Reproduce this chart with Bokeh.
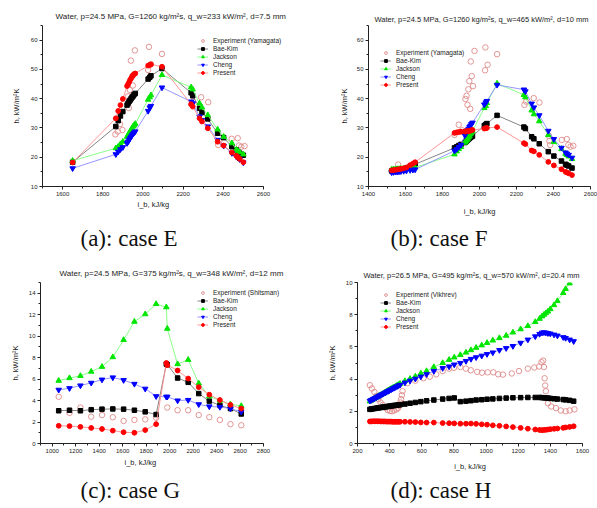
from bokeh.plotting import figure
from bokeh.models import Legend, LegendItem, Title, Range1d, SingleIntervalTicker
from bokeh.layouts import column, row
from bokeh.embed import file_html
from bokeh.resources import INLINE

# ---------------- data ----------------
X_LABEL = "i_b, kJ/kg"
Y_LABEL = "h, kW/m²K"
SERIES = ["Bae-Kim", "Jackson", "Cheng", "Present"]

# (a) case E
a_title = "Water, p=24.5 MPa, G=1260 kg/m²s, q_w=233 kW/m², d=7.5 mm"
a_caption = "(a): case E"
a_exp_name = "Experiment (Yamagata)"
a_exp_x = [1863, 1875, 1886, 1898, 1926, 1930, 1935, 1940, 1948, 1950, 1960, 2026, 2030, 2040, 2095,
           2242, 2250, 2290, 2325, 2375, 2380, 2442, 2472, 2478, 2490, 2506]
a_exp_y = [27.8, 28.8, 31.3, 29.3, 40.8, 36.8, 43.0, 53.0, 47.8, 44.5, 56.5, 49.8, 57.7, 51.8, 55.3,
           38.0, 39.0, 40.5, 38.8, 24.2, 25.5, 26.3, 26.5, 24.0, 23.6, 23.8]
a_x = [1650, 1865, 1877, 1888, 1900, 1921, 1926, 1931, 1936, 1941, 1946, 1951, 1956, 1962, 2026, 2034,
       2040, 2095, 2240, 2248, 2282, 2294, 2323, 2372, 2402, 2443, 2465, 2472, 2482, 2500]
a_baekim = [18.3, 30.5, 32.5, 34.1, 35.6, 37.8, 38.4, 39.0, 39.5, 40.0, 40.5, 40.9, 41.4, 41.8, 46.7, 47.3,
            47.8, 50.3, 42.0, 41.0, 36.7, 35.3, 33.1, 28.2, 26.7, 23.6, 22.5, 21.9, 21.4, 20.7]
a_jackson = [18.8, 23.1, 23.6, 24.5, 25.3, 27.0, 27.6, 28.2, 28.8, 29.3, 29.9, 30.5, 30.9, 31.4, 39.7, 40.5,
             41.2, 48.1, 43.9, 43.2, 38.4, 37.0, 34.4, 29.5, 27.0, 24.8, 22.6, 22.2, 21.7, 21.0]
a_cheng = [16.2, 21.0, 21.9, 22.7, 23.4, 24.8, 25.3, 25.9, 26.5, 27.0, 27.5, 28.0, 28.4, 28.8, 35.8, 37.0,
           37.5, 43.8, 39.0, 38.4, 33.9, 32.7, 30.5, 25.9, 23.9, 21.4, 20.2, 19.8, 19.3, 18.2]
a_present = [18.2, 33.3, 35.8, 37.8, 39.9, 44.3, 44.9, 45.6, 46.4, 46.9, 47.5, 48.0, 48.4, 48.6, 51.3, 51.5,
             51.7, 50.9, 38.1, 37.3, 33.3, 32.2, 29.9, 25.3, 24.0, 21.6, 20.5, 20.0, 19.4, 18.3]

# (b) case F
b_title = "Water, p=24.5 MPa, G=1260 kg/m²s, q_w=465 kW/m², d=10 mm"
b_caption = "(b): case F"
b_exp_name = "Experiment (Yamagata)"
b_exp_x = [1560, 1865, 1888, 1906, 1924, 1930, 1935, 1940, 1945, 1950, 1953, 1958, 1965, 1973, 2030,
           2032, 2044, 2095, 2243, 2252, 2293, 2324, 2375, 2378, 2382, 2445, 2472, 2480, 2492, 2507]
b_exp_y = [17.5, 27.6, 31.1, 29.2, 39.9, 41.0, 37.9, 43.2, 46.0, 36.5, 52.7, 47.7, 44.3, 56.3, 49.7,
           57.5, 51.6, 55.2, 37.9, 39.0, 40.2, 38.7, 27.3, 25.5, 24.2, 25.9, 26.2, 24.2, 23.6, 23.9]
b_x = [1525, 1535, 1545, 1555, 1565, 1575, 1590, 1605, 1625, 1640, 1652, 1865, 1877, 1888, 1900, 1921,
       1926, 1931, 1936, 1941, 1946, 1951, 1956, 1962, 2026, 2034, 2040, 2095, 2240, 2248, 2282, 2294,
       2323, 2372, 2402, 2443, 2465, 2472, 2482, 2500]
b_baekim = [15.3, 15.4, 15.5, 15.6, 15.7, 15.8, 16.0, 16.2, 16.8, 17.2, 17.6, 23.2, 23.6, 24.0, 24.4, 25.0,
            25.3, 25.6, 25.9, 26.2, 26.5, 26.8, 27.0, 27.2, 30.8, 31.2, 31.5, 34.3, 30.3, 29.8, 27.0, 26.3,
            24.6, 21.9, 20.4, 18.7, 17.6, 17.3, 17.0, 16.3]
b_jackson = [15.8, 15.9, 15.9, 16.0, 16.0, 16.1, 16.1, 16.2, 16.3, 16.4, 16.5, 21.0, 22.0, 22.8, 23.5, 25.0,
             25.4, 25.8, 26.3, 26.8, 27.3, 27.9, 28.4, 29.0, 36.8, 37.5, 38.5, 45.2, 41.3, 40.5, 36.0, 34.7,
             32.3, 27.6, 25.2, 22.8, 21.2, 20.8, 20.3, 19.4]
b_cheng = [14.8, 14.9, 15.0, 15.0, 15.1, 15.2, 15.3, 15.4, 15.6, 15.7, 15.8, 22.2, 22.8, 23.5, 24.2, 27.5,
           28.0, 28.6, 29.2, 29.7, 30.3, 30.8, 31.3, 31.8, 38.0, 38.7, 39.2, 44.7, 43.1, 42.5, 38.3, 37.0,
           34.3, 29.0, 26.2, 23.2, 21.6, 21.2, 20.8, 19.8]
b_present = [15.5, 15.6, 15.7, 15.8, 15.9, 16.0, 16.2, 16.5, 17.3, 17.8, 18.3, 28.3, 28.5, 28.6, 28.7, 28.8,
             28.8, 28.9, 28.9, 29.0, 29.0, 29.1, 29.2, 29.3, 29.8, 29.9, 30.0, 30.3, 24.8, 24.5, 22.3, 22.0,
             20.8, 18.4, 17.2, 15.9, 15.0, 14.8, 14.5, 13.9]

# (c) case G
c_title = "Water, p=24.5 MPa, G=375 kg/m²s, q_w=348 kW/m², d=12 mm"
c_caption = "(c): case G"
c_exp_name = "Experiment (Shitsman)"
c_exp_x = [1055, 1147, 1240, 1332, 1424, 1516, 1608, 1700, 1792, 1885, 1980, 2068, 2158, 2248, 2338,
           2428, 2518, 2610]
c_exp_y = [4.35, 2.85, 3.35, 2.5, 2.65, 2.45, 2.1, 2.2, 2.25, 2.4, 3.35, 3.1, 3.1, 2.65, 2.45, 2.2, 1.8, 1.7]
c_x = [1055, 1147, 1240, 1332, 1424, 1516, 1608, 1700, 1792, 1885, 1972, 1980, 2068, 2158, 2248, 2338,
       2428, 2518, 2610]
c_baekim = [3.05, 3.1, 3.05, 3.15, 3.2, 3.22, 3.2, 3.1, 2.95, 2.7, 7.4, 7.35, 6.1, 5.7, 4.65, 3.95, 3.55,
            3.25, 2.75]
c_jackson = [5.85, 6.1, 6.3, 6.7, 7.15, 8.05, 9.65, 11.35, 12.05, 13.0, 12.7, 10.7, 7.4, 7.8, 5.6, 4.4, 4.0,
             3.65, 3.5]
c_cheng = [5.0, 5.15, 5.4, 5.65, 5.95, 6.15, 5.9, 5.55, 5.1, 4.4, 4.35, 4.35, 4.0, 4.05, 3.65, 3.45, 3.4,
           3.25, 2.95]
c_present = [1.65, 1.62, 1.55, 1.45, 1.35, 1.2, 1.05, 1.0, 1.25, 1.8, 7.5, 7.3, 6.8, 6.05, 5.25, 4.55, 4.05,
             3.6, 3.25]

# (d) case H
d_title = "Water, p=26.5 MPa, G=495 kg/m²s, q_w=570 kW/m², d=20.4 mm"
d_caption = "(d): case H"
d_exp_name = "Experiment (Vikhrev)"
d_exp_x = [277, 290, 305, 318, 330, 343, 357, 372, 388, 402, 415, 428, 442, 452, 460, 466, 471, 476, 480,
           510, 560, 610, 650, 690, 730, 770, 800, 840, 875, 905, 945, 975, 1010, 1045, 1075, 1105, 1160,
           1205, 1260, 1300, 1330, 1345, 1355, 1360, 1364, 1368, 1372, 1385, 1405, 1435, 1465, 1495, 1520,
           1550]
d_exp_y = [3.62, 3.42, 3.2, 2.95, 2.75, 2.55, 2.4, 2.22, 2.08, 2.02, 2.0, 2.05, 2.12, 2.2, 2.35, 2.55, 2.75,
           3.0, 3.25, 3.75, 3.9, 4.05, 4.15, 4.3, 4.5, 4.65, 4.7, 4.75, 4.65, 4.55, 4.45, 4.4, 4.42, 4.42,
           4.3, 4.28, 4.35, 4.5, 4.65, 4.72, 4.78, 5.05, 5.15, 4.75, 4.05, 3.6, 3.25, 2.5, 2.3, 2.2, 2.05,
           2.0, 2.05, 2.12]
d_x = [277, 286, 296, 305, 315, 324, 333, 343, 352, 362, 371, 380, 390, 399, 409, 418, 427, 437, 446, 456,
       465, 495, 527, 560, 594, 630, 675, 730, 770, 802, 840, 875, 906, 938, 973, 1006, 1042, 1083, 1125,
       1167, 1215, 1260, 1306, 1333, 1348, 1360, 1372, 1385, 1400, 1423, 1444, 1480, 1495, 1520, 1545]
d_baekim = [2.12, 2.14, 2.16, 2.17, 2.19, 2.2, 2.22, 2.23, 2.25, 2.26, 2.28, 2.29, 2.3, 2.32, 2.33, 2.35,
            2.36, 2.37, 2.38, 2.4, 2.41, 2.45, 2.5, 2.55, 2.6, 2.65, 2.7, 2.76, 2.8, 2.83, 2.6, 2.63, 2.66,
            2.7, 2.72, 2.75, 2.77, 2.8, 2.82, 2.84, 2.85, 2.86, 2.86, 2.86, 2.85, 2.84, 2.83, 2.82, 2.8,
            2.78, 2.76, 2.73, 2.71, 2.68, 2.63]
d_jackson = [2.62, 2.68, 2.74, 2.79, 2.85, 2.9, 2.96, 3.01, 3.07, 3.12, 3.18, 3.23, 3.29, 3.34, 3.4, 3.45,
             3.5, 3.55, 3.61, 3.66, 3.71, 3.88, 4.02, 4.17, 4.35, 4.5, 4.75, 5.0, 5.2, 5.35, 5.5, 5.65, 5.8,
             5.95, 6.1, 6.25, 6.4, 6.55, 6.7, 6.9, 7.1, 7.3, 7.55, 7.75, 7.9, 8.0, 8.1, 8.2, 8.35, 8.6,
             8.85, 9.35, 9.6, 9.95, 10.4]
d_cheng = [2.65, 2.7, 2.75, 2.8, 2.85, 2.9, 2.95, 3.0, 3.05, 3.1, 3.15, 3.2, 3.25, 3.3, 3.35, 3.4, 3.45,
           3.5, 3.55, 3.6, 3.64, 3.78, 3.9, 4.02, 4.15, 4.3, 4.5, 4.68, 4.78, 4.9, 5.0, 5.12, 5.25, 5.35,
           5.45, 5.55, 5.65, 5.8, 5.92, 6.05, 6.25, 6.45, 6.65, 6.8, 6.88, 6.9, 6.88, 6.85, 6.82, 6.76,
           6.7, 6.6, 6.55, 6.45, 6.35]
d_present = [1.37, 1.37, 1.38, 1.38, 1.38, 1.38, 1.38, 1.37, 1.37, 1.37, 1.37, 1.36, 1.36, 1.36, 1.36,
             1.35, 1.35, 1.35, 1.35, 1.35, 1.35, 1.35, 1.34, 1.33, 1.31, 1.3, 1.3, 1.27, 1.26, 1.25, 1.23,
             1.23, 1.24, 1.22, 1.19, 1.17, 1.13, 1.1, 1.06, 1.02, 0.97, 0.92, 0.87, 0.84, 0.83, 0.84, 0.85,
             0.87, 0.89, 0.91, 0.93, 0.97, 1.0, 1.03, 1.07]

# ---------------- styles ----------------
SANS = "Liberation Sans"
SERIF = "Liberation Serif"
INK = "#222222"
EXP_COLOR = "#e08a8a"
STYLE = {
    "Bae-Kim": dict(marker="square", color="#000000", line="#777777", size=4.5),
    "Jackson": dict(marker="triangle", color="#00e600", line="#7cff7c", size=5.5),
    "Cheng": dict(marker="inverted_triangle", color="#0000ff", line="#8a8aff", size=5.5),
    "Present": dict(marker="circle", color="#ff0000", line="#ff8a8a", size=4.8),
}


def spacer_title(height):
    # an invisible one-line panel that only reserves vertical room
    return Title(text="\u00a0", text_font_size="2px", standoff=max(height - 4, 0),
                 text_color="white", vertical_align="top")


def make_panel(lay, title, caption, exp_name, exp_x, exp_y, xs, series):
    p = figure(width=lay["w"], height=lay["h"],
               x_range=Range1d(*lay["xr"]), y_range=Range1d(*lay["yr"]),
               output_backend="svg", toolbar_location=None, title=None,
               min_border_left=lay["bl"], min_border_right=lay["br"],
               min_border_top=lay["bt"], min_border_bottom=lay["bb"],
               background_fill_color="white", border_fill_color="white")
    p.outline_line_color = None
    p.grid.visible = False

    p.xaxis.ticker = SingleIntervalTicker(interval=lay["xt"], num_minor_ticks=2)
    p.yaxis.ticker = SingleIntervalTicker(interval=lay["yt"], num_minor_ticks=2)
    if lay.get("xb"):
        p.xaxis.bounds = lay["xb"]
    p.yaxis.axis_label = Y_LABEL
    for ax in (p.xaxis, p.yaxis):
        ax.axis_line_color = INK
        ax.major_tick_line_color = INK
        ax.minor_tick_line_color = INK
        ax.major_tick_out = 3
        ax.major_tick_in = 0
        ax.minor_tick_out = 2
        ax.minor_tick_in = 0
        ax.major_label_text_font = SANS
        ax.major_label_text_font_size = "6px"
        ax.major_label_text_color = INK
        ax.axis_label_text_font = SANS
        ax.axis_label_text_font_size = "7.5px"
        ax.axis_label_text_font_style = "normal"
        ax.axis_label_text_color = INK
        ax.major_label_standoff = 2
    p.yaxis.axis_label_standoff = lay["yls"]

    # chart title above the frame
    p.add_layout(Title(text=title, align="left", offset=lay["t_off"], standoff=lay["t_so"],
                       vertical_align="top", text_font=SANS, text_font_size=lay["t_fs"],
                       text_font_style="normal", text_color=INK), "above")

    # x label: either on the axis or as a free title below it
    if lay["xl_mode"] == "axis":
        p.xaxis.axis_label = X_LABEL
        p.xaxis.axis_label_standoff = lay["xls"]
    else:
        p.add_layout(Title(text=X_LABEL, align="left", offset=lay["xl_off"], standoff=lay["xl_so"],
                           vertical_align="top", text_font=SANS, text_font_size="7.5px",
                           text_font_style="normal", text_color=INK), "below")
    if lay["sp"] > 0:
        p.add_layout(spacer_title(lay["sp"]), "below")
    p.add_layout(Title(text=caption, align="left", offset=lay["c_off"], standoff=0,
                       vertical_align="top", text_font=SERIF, text_font_size="23px",
                       text_font_style="normal", text_color="#111111"), "below")

    items = []
    er = p.scatter(exp_x, exp_y, marker="circle", size=5.5, fill_color=None,
                   line_color=EXP_COLOR, line_width=0.9)
    items.append(LegendItem(label=exp_name, renderers=[er]))
    for name, ys in zip(SERIES, series):
        st = STYLE[name]
        lr = p.line(xs, ys, line_color=st["line"], line_width=0.9)
        sr = p.scatter(xs, ys, marker=st["marker"], size=st["size"],
                       fill_color=st["color"], line_color=st["color"])
        items.append(LegendItem(label=name, renderers=[lr, sr]))

    leg = Legend(items=items, location=lay["leg"], orientation="vertical",
                 label_text_font=SANS, label_text_font_size="6.5px", label_text_color=INK,
                 glyph_width=11, glyph_height=7, label_height=7, spacing=1,
                 padding=0, margin=0, label_standoff=5,
                 border_line_color=None, background_fill_alpha=0)
    p.add_layout(leg)
    return p


LAY_A = dict(w=300, h=254, bl=42, br=15, bt=25, bb=68, xr=(1500, 2710), xb=(1500, 2600),
             yr=(10, 65), xt=200, yt=10, yls=7, leg=(155, 110),
             t_off=13, t_so=5, t_fs="8px", xl_mode="title", xl_off=95, xl_so=3, xls=0,
             sp=13, c_off=38)
LAY_B = dict(w=297, h=254, bl=68, br=7, bt=25, bb=65, xr=(1400, 2600), xb=None,
             yr=(10, 65), xt=200, yt=10, yls=5, leg=(12, 98),
             t_off=6, t_so=0, t_fs="7.5px", xl_mode="axis", xl_off=0, xl_so=0, xls=8,
             sp=7, c_off=22)
LAY_C = dict(w=300, h=254, bl=40, br=17, bt=28, bb=65, xr=(900, 2970), xb=(900, 2800),
             yr=(0, 15), xt=200, yt=2, yls=6, leg=(157, 115),
             t_off=19, t_so=5, t_fs="8px", xl_mode="title", xl_off=84, xl_so=5, xls=0,
             sp=6, c_off=40)
LAY_D = dict(w=297, h=254, bl=57, br=15, bt=27, bb=62, xr=(200, 1600), xb=None,
             yr=(0, 10), xt=200, yt=2, yls=6, leg=(23, 113),
             t_off=6, t_so=1, t_fs="7.5px", xl_mode="axis", xl_off=0, xl_so=0, xls=6,
             sp=4, c_off=33)

pa = make_panel(LAY_A, a_title, a_caption, a_exp_name, a_exp_x, a_exp_y, a_x,
                [a_baekim, a_jackson, a_cheng, a_present])
pb = make_panel(LAY_B, b_title, b_caption, b_exp_name, b_exp_x, b_exp_y, b_x,
                [b_baekim, b_jackson, b_cheng, b_present])
pc = make_panel(LAY_C, c_title, c_caption, c_exp_name, c_exp_x, c_exp_y, c_x,
                [c_baekim, c_jackson, c_cheng, c_present])
pd = make_panel(LAY_D, d_title, d_caption, d_exp_name, d_exp_x, d_exp_y, d_x,
                [d_baekim, d_jackson, d_cheng, d_present])

layout = column(row(pa, pb), row(pc, pd))
open("out.html", "w").write(file_html(layout, INLINE))
